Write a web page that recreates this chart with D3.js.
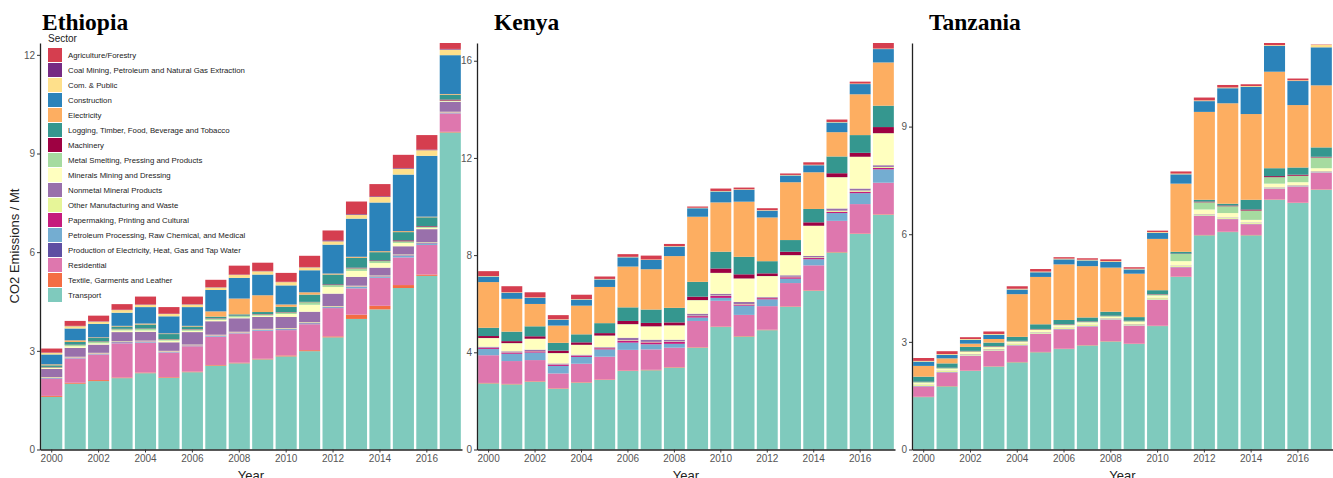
<!DOCTYPE html>
<html><head><meta charset="utf-8">
<script src="https://cdn.jsdelivr.net/npm/d3@7"></script>
<style>body{margin:0;background:#fff} svg{display:block}</style>
</head><body>
<svg id="chart" width="1333" height="478"></svg>
<script>
const years = [2000,2001,2002,2003,2004,2005,2006,2007,2008,2009,2010,2011,2012,2013,2014,2015,2016,2017];
const xTickYears = [2000,2002,2004,2006,2008,2010,2012,2014,2016];
const sectors = [
  "Agriculture/Forestry",
  "Coal Mining, Petroleum and Natural Gas Extraction",
  "Com. & Public",
  "Construction",
  "Electricity",
  "Logging, Timber, Food, Beverage and Tobacco",
  "Machinery",
  "Metal Smelting, Pressing and Products",
  "Minerals Mining and Dressing",
  "Nonmetal Mineral Products",
  "Other Manufacturing and Waste",
  "Papermaking, Printing and Cultural",
  "Petroleum Processing, Raw Chemical, and  Medical",
  "Production of Electricity, Heat, Gas and Tap Water",
  "Residential",
  "Textile, Garments and Leather",
  "Transport"
];
const sectorColors = ["#d53e4f","#762a83","#fee08b","#2b83ba","#fdae61","#35978f","#9e0142","#a6dba0","#ffffbf","#9970ab","#e6f598","#c51b7d","#74add1","#5e4fa2","#de77ae","#f46d43","#7fcabd"];

// values per sector (same order as sectors), one value per year 2000..2017 (Mt)
const ethiopiaValues = [
  [.12,.15,.17,.17,.24,.20,.23,.22,.27,.25,.27,.34,.30,.38,.37,.40,.44,.18],
  [.01,.01,.01,.01,.01,.01,.01,.01,.01,.01,.01,.01,.03,.02,.02,.02,.02,.02],
  [.05,.07,.07,.08,.07,.07,.08,.08,.09,.10,.10,.09,.10,.12,.17,.18,.17,.17],
  [.30,.36,.41,.40,.50,.52,.57,.65,.63,.63,.58,.67,.88,1.16,1.48,1.72,1.85,1.18],
  [.03,.05,.02,.02,.03,.02,.02,.16,.48,.51,.07,.07,.03,.03,.03,.03,.02,.02],
  [.05,.08,.10,.07,.12,.15,.08,.05,.04,.06,.16,.22,.30,.30,.25,.25,.27,.15],
  [.01,.01,.01,.01,.01,.01,.01,.01,.01,.01,.01,.01,.02,.02,.02,.03,.02,.03],
  [.02,.04,.05,.04,.05,.04,.04,.04,.04,.04,.05,.08,.06,.08,.06,.05,.03,.02],
  [.03,.05,.04,.05,.04,.05,.04,.04,.03,.04,.09,.21,.20,.18,.14,.10,.04,.02],
  [.25,.27,.25,.28,.27,.26,.38,.41,.41,.36,.34,.32,.38,.27,.24,.25,.40,.30],
  [.02,.02,.02,.02,.02,.02,.02,.02,.02,.02,.02,.02,.02,.02,.02,.02,.02,.02],
  [.01,.01,.01,.01,.01,.01,.01,.01,.01,.01,.01,.01,.01,.01,.01,.01,.01,.01],
  [.02,.02,.02,.03,.03,.02,.02,.03,.02,.03,.03,.03,.03,.05,.04,.06,.05,.02],
  [0,0,0,0,0,0,0,0,0,0,0,0,0,0,0,0,0,0],
  [.52,.74,.78,1.04,.91,.75,.77,.86,.89,.85,.77,.79,.86,.80,.85,.84,.90,.56],
  [.03,.03,.03,.02,.02,.02,.02,.02,.02,.02,.03,.03,.03,.13,.11,.09,.04,.02],
  [1.60,2.00,2.08,2.17,2.32,2.18,2.35,2.55,2.62,2.74,2.83,2.99,3.41,3.97,4.26,4.91,5.28,9.64]
];
const kenyaValues = [
  [.20,.25,.21,.17,.18,.10,.11,.16,.09,.05,.10,.07,.08,.06,.10,.10,.08,.23],
  [0,0,0,0,0,0,0,0,0,0,0,0,0,0,0,0,0,0],
  [.02,.02,.02,.02,.02,.02,.02,.02,.02,.02,.02,.02,.02,.02,.02,.02,.02,.02],
  [.23,.25,.25,.24,.25,.31,.38,.38,.39,.35,.45,.49,.28,.28,.29,.40,.42,.55],
  [1.88,1.35,.92,.71,1.18,1.49,1.68,1.66,2.13,2.68,2.03,2.27,1.80,2.38,1.51,1.00,1.68,1.78],
  [.34,.39,.41,.32,.33,.41,.56,.55,.60,.61,.69,.72,.50,.48,.55,.69,.73,.88],
  [.08,.08,.10,.10,.10,.10,.13,.14,.12,.14,.18,.17,.11,.14,.14,.16,.16,.25],
  [.01,.01,.01,.01,.01,.01,.01,.01,.01,.01,.01,.01,.01,.01,.01,.01,.01,.01],
  [.35,.33,.44,.42,.40,.47,.55,.54,.58,.55,.85,.96,.85,.82,1.23,1.28,1.30,1.31],
  [.04,.04,.06,.04,.03,.03,.10,.09,.07,.08,.07,.08,.03,.06,.06,.09,.08,.07],
  [.01,.01,.01,.01,.01,.01,.02,.02,.02,.02,.02,.02,.02,.02,.03,.05,.05,.04],
  [.04,.05,.05,.05,.05,.05,.08,.08,.08,.06,.08,.05,.05,.06,.05,.05,.06,.06],
  [.26,.30,.31,.31,.28,.30,.30,.21,.16,.14,.12,.38,.28,.18,.25,.32,.45,.55],
  [0,0,0,0,0,0,0,0,0,0,0,0,0,0,0,0,0,0],
  [1.14,.94,.87,.61,.76,.94,.85,.84,.80,1.08,1.06,.87,.97,.96,1.03,1.28,1.21,1.30],
  [.02,.02,.02,.02,.02,.02,.02,.02,.02,.02,.02,.02,.02,.02,.02,.02,.02,.02],
  [2.72,2.68,2.79,2.50,2.75,2.86,3.23,3.26,3.37,4.19,5.04,4.65,4.91,5.87,6.53,8.11,8.87,9.66]
];
const tanzaniaValues = [
  [.08,.08,.05,.07,.07,.07,.04,.04,.05,.04,.04,.06,.08,.07,.05,.06,.05,.01],
  [0,0,0,0,0,0,0,0,0,0,0,0,0,0,0,0,0,0],
  [.02,.02,.02,.02,.02,.02,.02,.02,.02,.02,.02,.02,.02,.02,.02,.02,.02,.07],
  [.12,.10,.11,.12,.13,.13,.14,.16,.16,.12,.17,.26,.30,.42,.76,.72,.67,1.06],
  [.30,.14,.09,.10,1.19,1.32,1.55,1.43,1.23,1.21,1.43,1.90,2.45,2.80,2.39,2.69,1.74,1.73],
  [.14,.12,.11,.10,.11,.13,.12,.11,.11,.10,.11,.05,.05,.05,.27,.22,.20,.26],
  [.01,.01,.01,.01,.01,.01,.01,.01,.01,.01,.01,.01,.02,.02,.03,.03,.03,.02],
  [.02,.02,.02,.02,.02,.02,.02,.02,.02,.02,.03,.20,.20,.19,.26,.18,.18,.30],
  [.05,.05,.06,.05,.05,.06,.06,.06,.04,.06,.06,.12,.13,.12,.07,.10,.08,.08],
  [.01,.01,.01,.01,.01,.01,.01,.01,.01,.01,.01,.01,.01,.01,.01,.01,.01,.01],
  [.03,.03,.03,.03,.03,.03,.03,.03,.02,.03,.04,.03,.03,.03,.03,.02,.02,.02],
  [0,0,0,0,0,0,0,0,0,0,0,0,0,0,0,0,0,0],
  [.01,.01,.01,.01,.01,.01,.01,.01,.01,.01,.01,.01,.01,.01,.01,.01,.01,.01],
  [0,0,0,0,0,0,0,0,0,0,0,0,0,0,0,0,0,0],
  [.29,.38,.41,.43,.46,.50,.54,.52,.60,.50,.72,.26,.53,.35,.30,.30,.45,.47],
  [.01,.01,.01,.01,.01,.01,.01,.01,.01,.01,.01,.01,.01,.01,.01,.01,.01,.01],
  [1.46,1.76,2.19,2.31,2.43,2.71,2.80,2.90,3.01,2.94,3.44,4.81,5.97,6.06,5.97,6.96,6.87,7.24]
];
const ethiopiaTicks = [0,3,6,9,12];
const kenyaTicks = [0,4,8,12,16];
const tanzaniaTicks = [0,3,6,9];
const countryNames = ["Ethiopia","Kenya","Tanzania"];

const svg = d3.select("#chart");
const plotTop = 43, plotBottom = 449.5;
const panels = [
  {name: countryNames[0], values: ethiopiaValues, ticks: ethiopiaTicks, x0: 40, x1: 462, titleX: 42},
  {name: countryNames[1], values: kenyaValues, ticks: kenyaTicks, x0: 477, x1: 895, titleX: 494},
  {name: countryNames[2], values: tanzaniaValues, ticks: tanzaniaTicks, x0: 912, x1: 1333, titleX: 929}
];
const stackKeys = sectors.slice().reverse(); // Transport at bottom
const colorScale = d3.scaleOrdinal().domain(sectors).range(sectorColors);

panels.forEach(p => {
  const rows = years.map((yr, i) => {
    const r = {year: yr};
    sectors.forEach((s, si) => r[s] = p.values[si][i]);
    return r;
  });
  const series = d3.stack().keys(stackKeys)(rows);
  const maxTotal = d3.max(rows, r => d3.sum(sectors, s => r[s]));
  const x = d3.scaleBand().domain(years).range([p.x0, p.x1]).paddingInner(0.1).paddingOuter(0.05);
  const y = d3.scaleLinear().domain([0, maxTotal]).range([plotBottom, plotTop]);
  const g = svg.append("g");

  g.selectAll("g.layer").data(series).join("g")
    .attr("fill", d => colorScale(d.key))
    .selectAll("rect").data(d => d).join("rect")
    .attr("x", d => x(d.data.year))
    .attr("width", x.bandwidth())
    .attr("y", d => y(d[1]))
    .attr("height", d => Math.max(0, y(d[0]) - y(d[1])));

  const ya = g.append("g").attr("transform", `translate(${p.x0},0)`)
    .call(d3.axisLeft(y).tickValues(p.ticks).tickSize(3).tickSizeOuter(0).tickPadding(2));
  ya.select(".domain").attr("stroke", "#222").attr("stroke-width", 1.3);
  ya.selectAll(".tick line").attr("stroke", "#333");
  ya.selectAll(".tick text").attr("fill", "#555").style("font-family", "Liberation Sans, Arial, sans-serif").style("font-size", "10px");

  const xa = g.append("g").attr("transform", `translate(0,${plotBottom})`)
    .call(d3.axisBottom(x).tickValues(xTickYears).tickSize(3).tickSizeOuter(0).tickPadding(2));
  xa.select(".domain").attr("stroke", "#222").attr("stroke-width", 1.3);
  xa.selectAll(".tick line").attr("stroke", "#333");
  xa.selectAll(".tick text").attr("fill", "#555").style("font-family", "Liberation Sans, Arial, sans-serif").style("font-size", "10px");

  g.append("text").attr("x", p.titleX).attr("y", 30)
    .style("font-family", "Liberation Serif, Times New Roman, serif").style("font-weight", "bold").style("font-size", "23.5px")
    .attr("fill", "#000").text(p.name);

  g.append("text").attr("x", (p.x0 + p.x1) / 2).attr("y", 479.5).attr("text-anchor", "middle")
    .style("font-family", "Liberation Sans, Arial, sans-serif").style("font-size", "13px").attr("fill", "#222").text("Year");
});

svg.append("text").attr("transform", "translate(19,246) rotate(-90)").attr("text-anchor", "middle")
  .style("font-family", "Liberation Sans, Arial, sans-serif").style("font-size", "13px").attr("fill", "#222")
  .text("CO2 Emissions / Mt");

// legend
const lg = svg.append("g");
lg.append("text").attr("x", 48).attr("y", 41.5).style("font-family", "Liberation Sans, Arial, sans-serif")
  .style("font-size", "10px").attr("fill", "#222").text("Sector");
const items = lg.selectAll("g.item").data(sectors).join("g").attr("transform", (d, i) => `translate(48,${48 + i * 15})`);
items.append("rect").attr("width", 14).attr("height", 14).attr("fill", d => colorScale(d));
items.append("text").attr("x", 20).attr("y", 10).style("font-family", "Liberation Sans, Arial, sans-serif")
  .style("font-size", "7.8px").attr("fill", "#222").text(d => d);
</script>
</body></html>
